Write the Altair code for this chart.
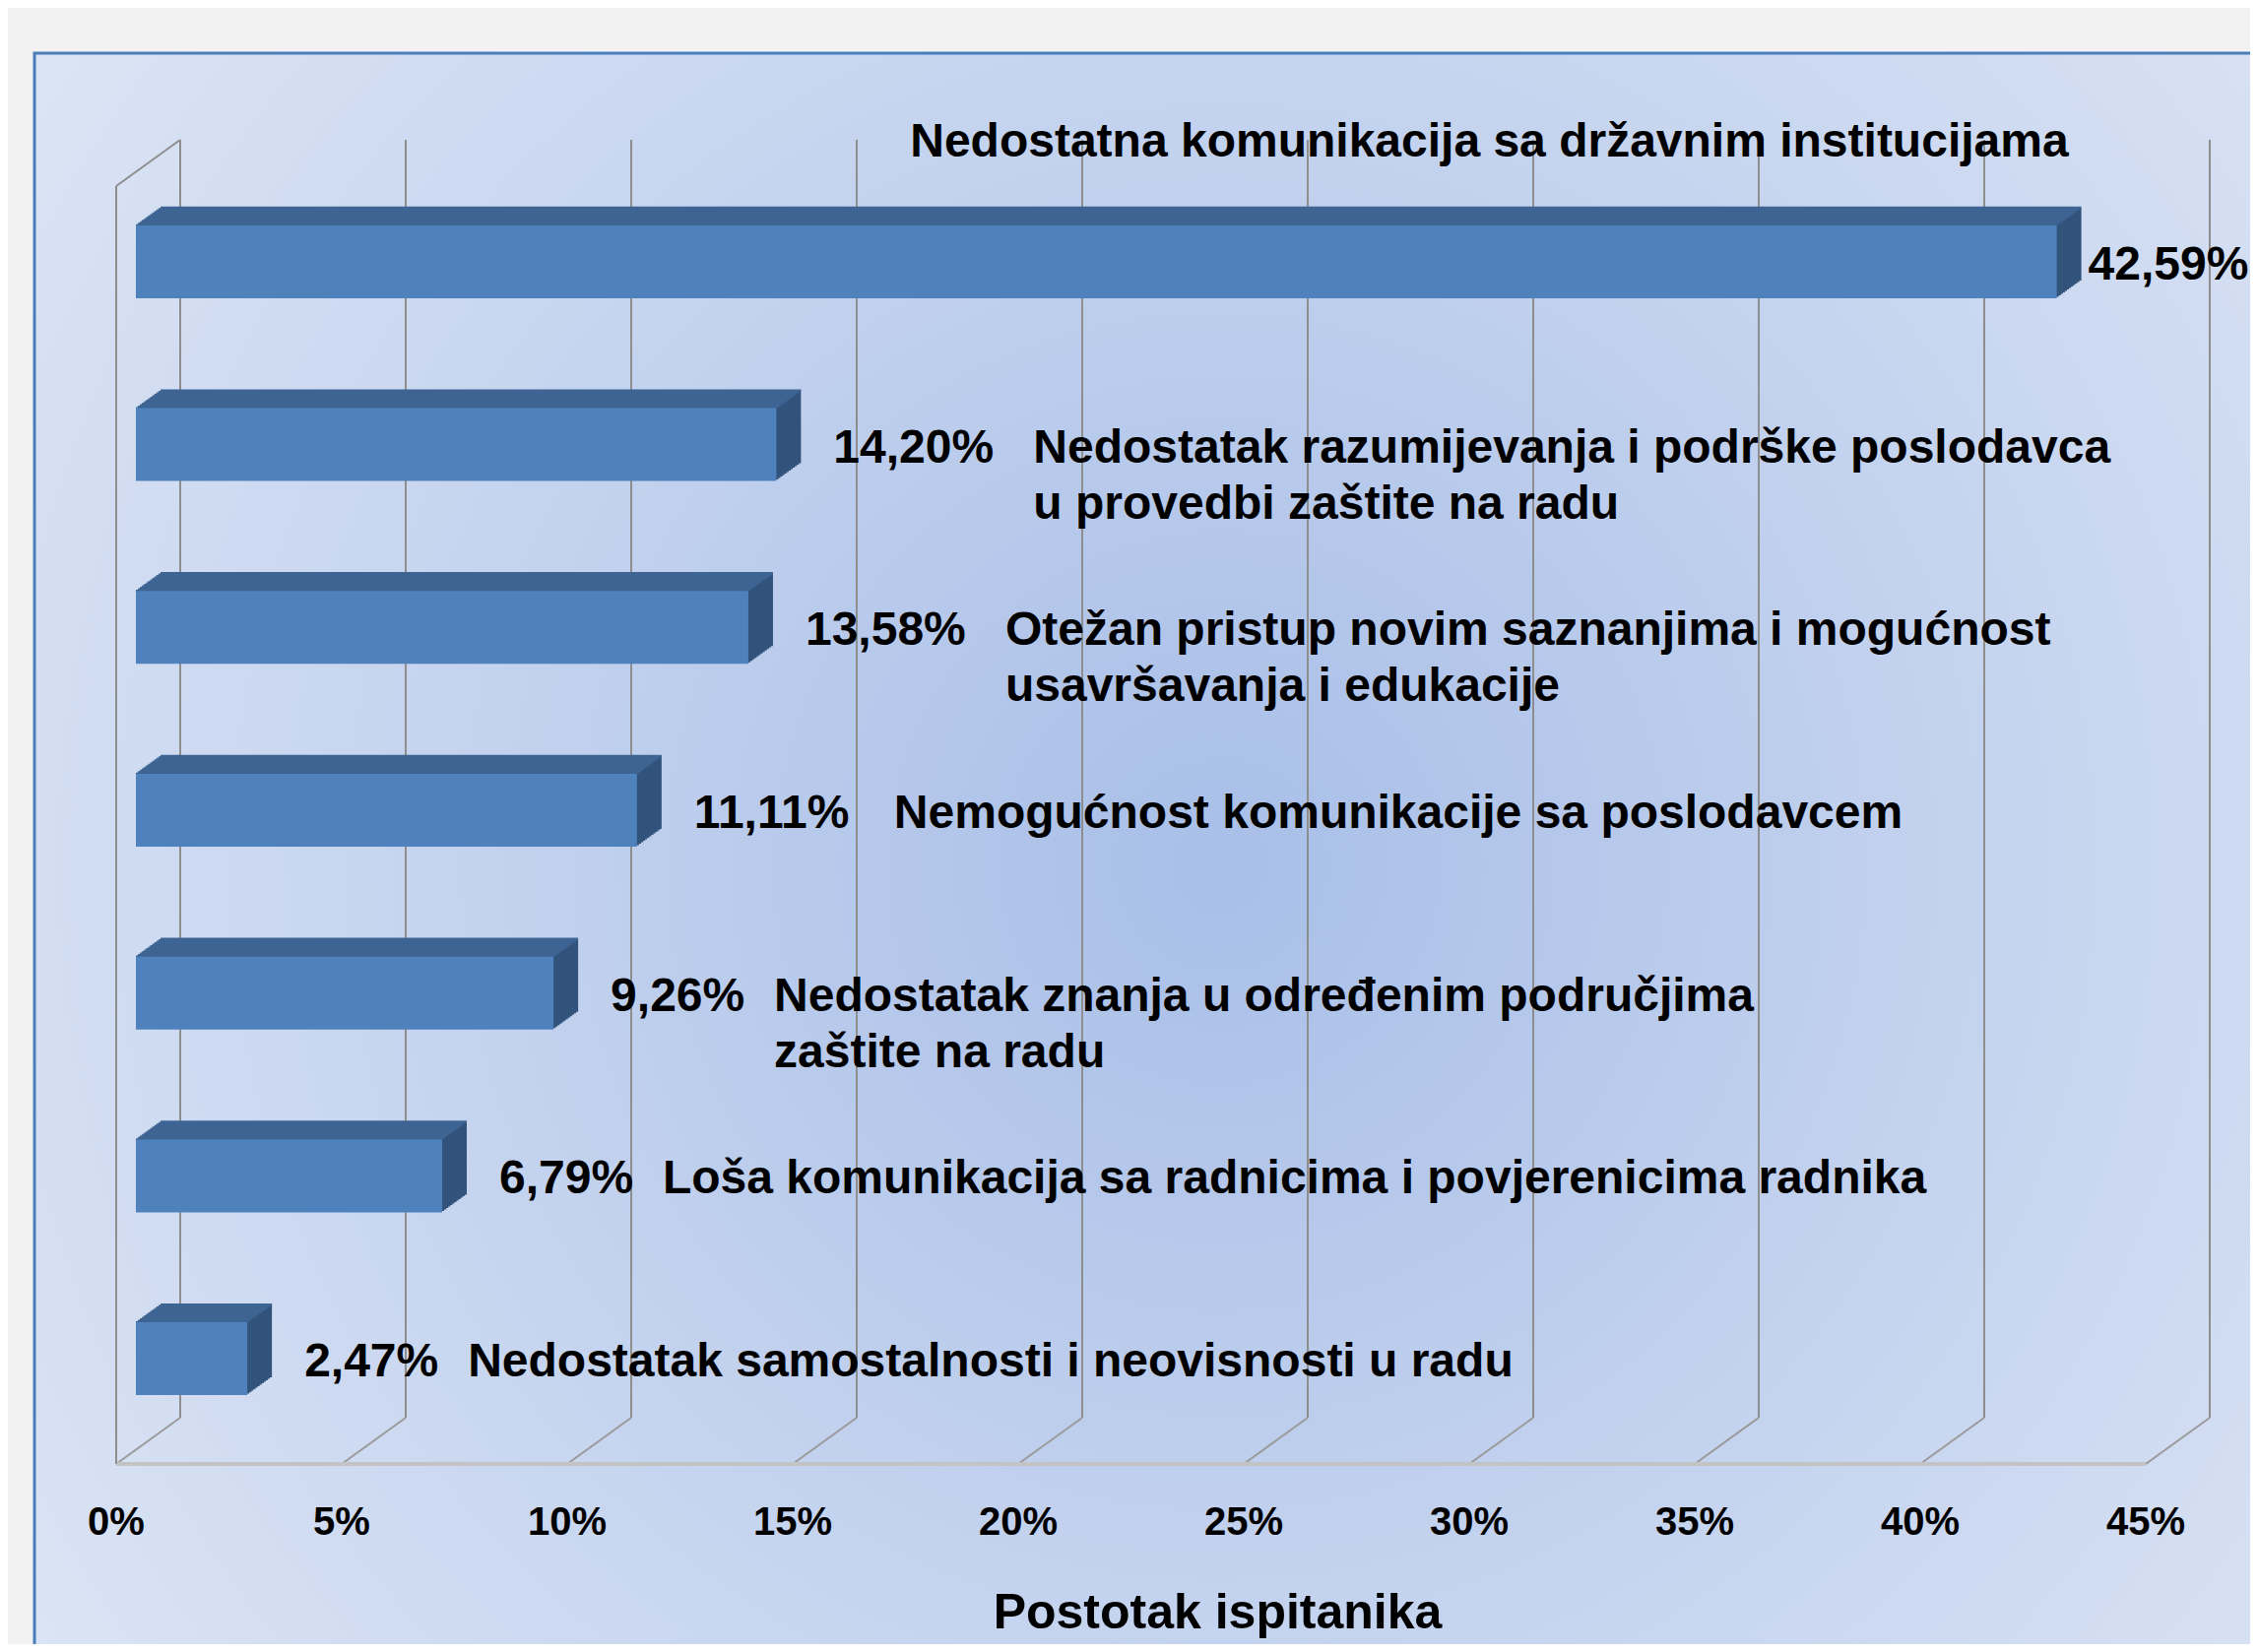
import altair as alt

# ---------------- data ----------------
categories = [
    ["Nedostatna komunikacija sa državnim institucijama"],
    ["Nedostatak razumijevanja i podrške poslodavca", "u provedbi zaštite na radu"],
    ["Otežan pristup novim saznanjima i mogućnost", "usavršavanja i edukacije"],
    ["Nemogućnost komunikacije sa poslodavcem"],
    ["Nedostatak znanja u određenim područjima", "zaštite na radu"],
    ["Loša komunikacija sa radnicima i povjerenicima radnika"],
    ["Nedostatak samostalnosti i neovisnosti u radu"],
]
values = [42.59, 14.20, 13.58, 11.11, 9.26, 6.79, 2.47]
ticks = [0, 5, 10, 15, 20, 25, 30, 35, 40, 45]
axis_title = "Postotak ispitanika"

# ---------------- styling / layout ----------------
W, H = 2061, 1298
DEPTH_X, DEPTH_Y = -65, 47          # back wall -> front edge of floor
FRONT_X, FRONT_Y = -45, 32          # back wall -> bar front face
BAR_DX, BAR_DY = 25, -18            # bar depth
N_STEPS = 12
HALF_BAND = 37
FRONT_COL = "#4f81bd"
TOP_COL = "#3e6493"
SIDE_COL = "#32537b"
GRID_COL = "#8e8e8e"
FONT = "Liberation Sans"

keys = [" ".join(c) for c in categories]
records = [{"key": k, "label": c, "value": v, "rank": i}
           for i, (k, c, v) in enumerate(zip(keys, categories, values))]
bar_data = alt.Data(values=records)
tick_data = alt.Data(values=[{"tick": t} for t in ticks])
span_data = alt.Data(values=[{"start": ticks[0], "end": ticks[-1]}])

xs = alt.Scale(domain=[ticks[0], ticks[-1]], nice=False, zero=False)
ys = alt.Scale(domain=keys, paddingInner=0.6015, paddingOuter=0.2957)

X = lambda f: alt.X(f, scale=xs, axis=None)
Y = alt.Y("key:N", scale=ys, axis=None)

grad = {
    "gradient": "radial",
    "stops": [{"offset": 0, "color": "#a9bfe8"}, {"offset": 1, "color": "#e2e9f6"}],
    "x1": 0.53, "y1": 0.5, "r1": 0, "x2": 0.53, "y2": 0.5, "r2": 0.72,
}

bg = alt.Chart(span_data).mark_rect(fill=grad, stroke="#4a7ebb", strokeWidth=3).encode(
    x=alt.value(-148), x2=alt.value(2125), y=alt.value(-88), y2=alt.value(1560)
)

grid = alt.Chart(tick_data).mark_rule(color=GRID_COL, strokeWidth=2).encode(
    x=X("tick:Q"), y=alt.value(0), y2=alt.value(H),
)

floor_diag = alt.Chart(tick_data).mark_rule(
    color="#9a9a9a", strokeWidth=2, x2Offset=DEPTH_X, y2Offset=DEPTH_Y
).encode(x=X("tick:Q"), x2="tick:Q", y=alt.value(H), y2=alt.value(H))

floor_front = alt.Chart(span_data).mark_rule(
    color="#c3c3c3", strokeWidth=4, xOffset=DEPTH_X, x2Offset=DEPTH_X, yOffset=DEPTH_Y
).encode(x=X("start:Q"), x2="end:Q", y=alt.value(H))

left_wall = alt.Chart(span_data).mark_rule(
    color=GRID_COL, strokeWidth=2, xOffset=DEPTH_X, yOffset=DEPTH_Y, y2Offset=DEPTH_Y
).encode(x=X("start:Q"), y=alt.value(0), y2=alt.value(H))

left_diag = alt.Chart(span_data).mark_rule(
    color=GRID_COL, strokeWidth=2, x2Offset=DEPTH_X, y2Offset=DEPTH_Y
).encode(x=X("start:Q"), x2="start:Q", y=alt.value(0), y2=alt.value(0))

tick_labels = alt.Chart(tick_data).transform_calculate(
    tlabel="datum.tick + '%'"
).mark_text(align="center", baseline="middle", xOffset=DEPTH_X, font=FONT,
            fontWeight="bold", fontSize=40, color="black").encode(
    x=X("tick:Q"), y=alt.value(H + 107), text="tlabel:N")

title = alt.Chart(span_data).transform_calculate(
    mid="(datum.start + datum.end) / 2"
).mark_text(align="center", baseline="middle", dx=23, font=FONT,
            fontWeight="bold", fontSize=50, color="black").encode(
    x=X("mid:Q"), y=alt.value(H + 199), text=alt.value(axis_title))

base = alt.Chart(bar_data)

sides, tops = [], []
for k in range(N_STEPS, 0, -1):
    ox = FRONT_X + BAR_DX * k / N_STEPS
    oy = FRONT_Y + BAR_DY * k / N_STEPS
    sides.append(base.mark_bar(color=SIDE_COL, xOffset=ox, x2Offset=ox, yOffset=oy).encode(
        x=X("value:Q"), x2=alt.datum(0), y=Y))
for k in range(N_STEPS, -1, -1):
    ox = FRONT_X + BAR_DX * k / N_STEPS
    oy = FRONT_Y + BAR_DY * k / N_STEPS
    tops.append(base.mark_rule(color=TOP_COL, strokeWidth=2.4, xOffset=ox, x2Offset=ox,
                               yOffset=oy - HALF_BAND).encode(
        x=X("value:Q"), x2=alt.datum(0), y=Y))

front = base.mark_bar(color=FRONT_COL, xOffset=FRONT_X, x2Offset=FRONT_X, yOffset=FRONT_Y).encode(
    x=X("value:Q"), x2=alt.datum(0), y=Y)

txt = dict(font=FONT, fontWeight="bold", fontSize=48, color="black")
vfmt = "replace(format(datum.value, '.2f'), '.', ',') + '%'"

vlabels = base.transform_filter("datum.rank > 0").transform_calculate(
    vlabel=vfmt
).mark_text(align="left", baseline="middle", dx=13, dy=36, **txt).encode(
    x=X("value:Q"), y=Y, text="vlabel:N")

vlabel_top = base.transform_filter("datum.rank == 0").transform_calculate(
    vlabel=vfmt
).mark_text(align="left", baseline="middle", dx=-13, dy=36, **txt).encode(
    x=X("value:Q"), y=Y, text="vlabel:N")

cat_top = base.transform_filter("datum.rank == 0").mark_text(
    align="right", baseline="alphabetic", dx=-33, dy=-75, **txt
).encode(x=X("value:Q"), y=Y, text="label:N")

cat_big = base.transform_filter("datum.rank > 0 && datum.value >= 10").mark_text(
    align="left", baseline="alphabetic", dx=216, dy=50, lineHeight=57, **txt
).encode(x=X("value:Q"), y=Y, text="label:N")

cat_small = base.transform_filter("datum.rank > 0 && datum.value < 10").mark_text(
    align="left", baseline="alphabetic", dx=179, dy=50, lineHeight=57, **txt
).encode(x=X("value:Q"), y=Y, text="label:N")

chart = alt.layer(
    bg, grid, floor_diag, floor_front, left_wall, left_diag, tick_labels, title,
    *sides, *tops, front, vlabels, vlabel_top, cat_top, cat_big, cat_small
).properties(
    width=W, height=H, autosize="none",
    padding={"left": 175, "top": 134, "right": 41, "bottom": 230},
    background="#f2f2f2",
).configure_view(stroke=None)

chart.save("out.html", embed_options={"renderer": "svg", "actions": False})
